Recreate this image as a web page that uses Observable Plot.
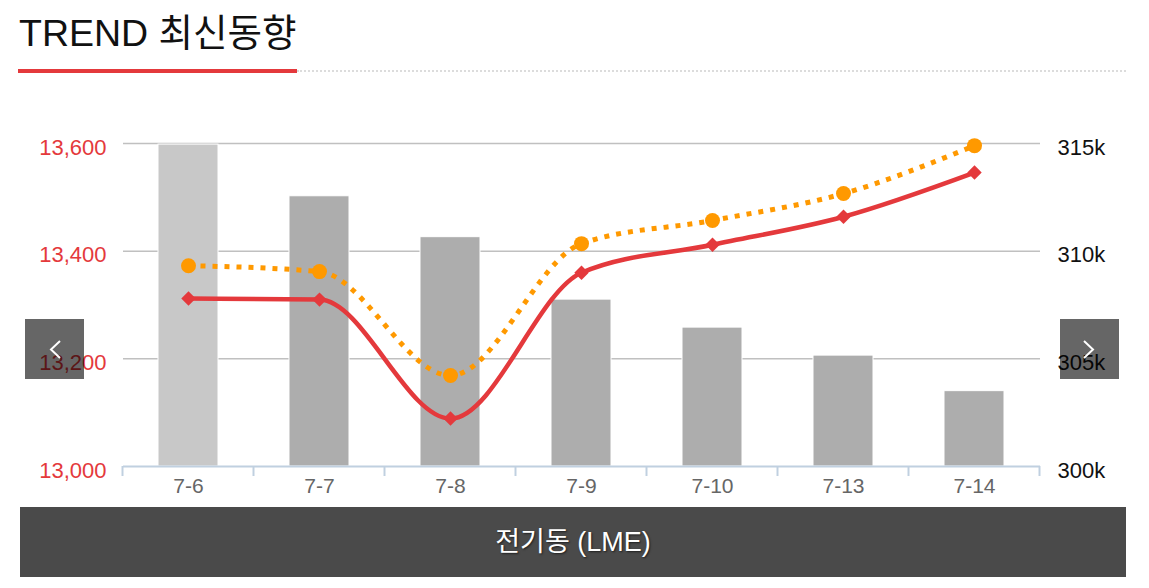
<!DOCTYPE html>
<html>
<head>
<meta charset="utf-8">
<script src="https://cdn.jsdelivr.net/npm/d3@7"></script>
<script src="https://cdn.jsdelivr.net/npm/@observablehq/plot@0.6"></script>
<style>
  html, body { margin: 0; padding: 0; background: #fff; }
  #page { position: relative; width: 1149px; height: 588px; overflow: hidden;
          font-family: "Liberation Sans", Arial, "Noto Sans CJK KR", sans-serif; }
  #title { position: absolute; left: 19px; top: 15px; font-size: 37.5px; line-height: 37px; color: #111;
           font-family: "Liberation Sans", Arial, "Noto Sans CJK KR", sans-serif; white-space: nowrap; }
  #redline { position: absolute; left: 18px; top: 69px; width: 279px; height: 4px; background: #e4393c; }
  #dotline { position: absolute; left: 297px; top: 70px; width: 829px; height: 0; border-top: 2px dotted #dcdcdc; }
  #chart { position: absolute; left: 0; top: 100px; }
  #footer { position: absolute; left: 20px; top: 507px; width: 1106px; height: 70px; background: #4a4a4a;
            color: #fff; font-size: 27px; line-height: 70px; text-align: center;
            text-shadow: 1px 1px 2px rgba(0,0,0,0.6); }
  .nav { position: absolute; top: 319px; width: 59px; height: 60px; background: rgba(0,0,0,0.6); }
  .nav svg { position: absolute; left: 0; top: 0; }
</style>
</head>
<body>
<div id="page">
  <div id="title">TREND 최신동향</div>
  <div id="redline"></div>
  <div id="dotline"></div>
  <div id="chart"></div>
  <div class="nav" style="left:25px"><svg width="59" height="60"><polyline points="35,22 26,30.5 35,39" fill="none" stroke="#fff" stroke-width="2"/></svg></div>
  <div class="nav" style="left:1060px"><svg width="59" height="60"><polyline points="24,22 33,30.5 24,39" fill="none" stroke="#fff" stroke-width="2"/></svg></div>
  <div id="footer">전기동 (LME)</div>
</div>
<script>
// ---- data ----
const dates = ["7-6", "7-7", "7-8", "7-9", "7-10", "7-13", "7-14"];
const stockK = [314.95, 312.55, 310.65, 307.75, 306.45, 305.15, 303.5];   // bars, right axis (k)
const priceCash = [13312, 13310, 13089, 13360, 13412, 13464, 13546];      // red line, left axis
const price3M = [13373, 13362, 13169, 13414, 13457, 13507, 13596];        // orange dotted line, left axis
const leftTicks = [13000, 13200, 13400, 13600];
const rightTicks = [300, 305, 310, 315];

// right axis (k) mapped onto the left-axis scale
const toLeft = v => 13000 + (v - 300) * 40;
const fromLeft = v => (v - 13000) / 40 + 300;

const rows = dates.map((d, i) => ({date: d, i, stock: stockK[i], cash: priceCash[i], m3: price3M[i]}));

const chart = Plot.plot({
  width: 1149,
  height: 400,
  marginTop: 43,
  marginBottom: 34,
  marginLeft: 123,
  marginRight: 109,
  style: {fontFamily: "'Liberation Sans', Arial, sans-serif", fontSize: "21px", background: "transparent", overflow: "visible"},
  x: {type: "band", domain: dates, paddingInner: 0.54, paddingOuter: 0.27},
  y: {domain: [13000, 13600]},
  marks: [
    Plot.gridY(leftTicks.slice(1), {stroke: "#c0c0c0", strokeOpacity: 1, strokeWidth: 1.5}),
    Plot.barY(rows, {x: "date", y1: 13000, y2: d => toLeft(d.stock),
      fill: d => d.i === 0 ? "#c8c8c8" : "#adadad", stroke: "#fff", strokeWidth: 1}),
    Plot.ruleY([13000], {stroke: "#c0d0e0", strokeWidth: 2}),
    Plot.line(rows, {x: "date", y: "m3", stroke: "#ff9900", strokeWidth: 5, strokeDasharray: "5,7",
      strokeLinecap: "butt", curve: "monotone-x"}),
    Plot.line(rows, {x: "date", y: "cash", stroke: "#e4393c", strokeWidth: 4.5, curve: "monotone-x"}),
    Plot.dot(rows, {x: "date", y: "m3", r: 7.5, fill: "#ff9900", symbol: "circle"}),
    Plot.dot(rows, {x: "date", y: "cash", r: 6.5, fill: "#e4393c", symbol: "diamond2"}),
    Plot.axisY({anchor: "left", ticks: leftTicks, tickFormat: d3.format(","), tickSize: 0, tickPadding: 17,
      color: "#e4393c", fontSize: 22, dy: 4, label: null}),
    Plot.axisY({anchor: "right", ticks: rightTicks.map(toLeft), tickFormat: v => Math.round(fromLeft(v)) + "k",
      tickSize: 0, tickPadding: 17, color: "#111", fontSize: 22, dy: 4, label: null}),
    Plot.axisX({tickSize: 0, tickPadding: 12, color: "#666", fontSize: 21, label: null})
  ]
});
document.getElementById("chart").appendChild(chart);

// category boundary ticks on the x axis line
const xs = chart.scale("x");
const ys = chart.scale("y");
const y0 = ys.apply(13000);
const svg = d3.select(chart.tagName.toLowerCase() === "svg" ? chart : chart.querySelector("svg"));
const bounds = dates.map(d => xs.apply(d) - (xs.step - xs.bandwidth) / 2);
bounds.push(xs.apply(dates[dates.length - 1]) + xs.bandwidth + (xs.step - xs.bandwidth) / 2);
svg.append("g").selectAll("line").data(bounds).join("line")
  .attr("x1", d => d).attr("x2", d => d).attr("y1", y0).attr("y2", y0 + 10)
  .attr("stroke", "#c0d0e0").attr("stroke-width", 2);
</script>
</body>
</html>
